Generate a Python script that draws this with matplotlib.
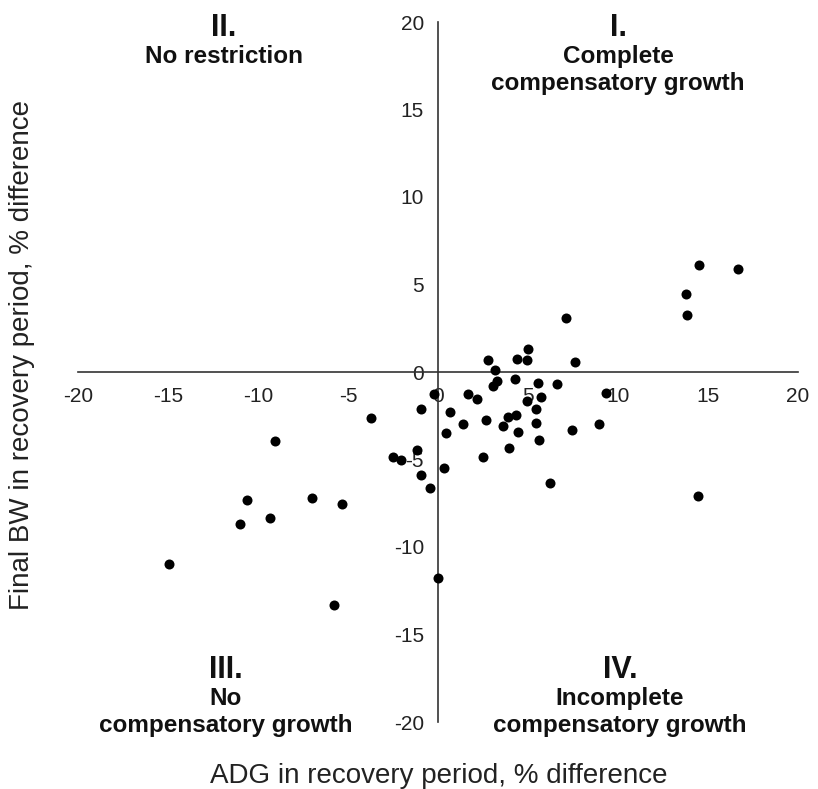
import matplotlib
matplotlib.use("Agg")
import matplotlib.pyplot as plt

# Data (ADG % difference, Final BW % difference)
adg = [7.10, 5.01, 2.75, 4.40, 4.97, 7.62, 3.19, 4.25, 3.29, 3.07,
       5.58, 6.60, -0.21, 1.68, 2.16, 5.71, 4.95, 9.34, -0.94, 5.45,
       0.64, -3.71, 1.40, 2.69, 3.90, 4.34, 3.62, 5.47, 8.97, 7.47,
       4.44, 0.42, 5.62, 3.97, -1.18, 2.51, -2.51, -2.08, 0.32, -0.94,
       6.21, -0.42, -9.08, -10.60, -6.99, -5.32, -11.01, -9.34, -14.95, 0.01,
       -5.79, 14.49, 16.68, 13.75, 13.82, 14.45]
bw = [3.10, 1.34, 0.70, 0.73, 0.68, 0.58, 0.09, -0.41, -0.50, -0.81,
      -0.62, -0.70, -1.23, -1.23, -1.57, -1.42, -1.67, -1.19, -2.14, -2.14,
      -2.30, -2.60, -2.96, -2.75, -2.56, -2.43, -3.10, -2.93, -2.96, -3.34,
      -3.42, -3.51, -3.91, -4.37, -4.47, -4.83, -4.85, -5.02, -5.51, -5.86,
      -6.37, -6.62, -3.97, -7.34, -7.19, -7.55, -8.71, -8.37, -10.96, -11.76,
      -13.32, 6.14, 5.90, 4.43, 3.27, -7.10]

ticks = [-20, -15, -10, -5, 0, 5, 10, 15, 20]
tick_labels = [str(t) for t in ticks]

xlabel = "ADG in recovery period, % difference"
ylabel = "Final BW in recovery period, % difference"

quadrants = [
    ("I.", "Complete\ncompensatory growth", 618, 28),
    ("II.", "No restriction", 224, 28),
    ("III.", "No\ncompensatory growth", 226, 670),
    ("IV.", "Incomplete\ncompensatory growth", 620, 670),
]

plt.rcParams['font.family'] = ['Liberation Sans', 'DejaVu Sans']

W, H = 818, 789
fig = plt.figure(figsize=(W / 100, H / 100), dpi=100)
ax = fig.add_axes([78 / W, (H - 722) / H, 720 / W, 700 / H])
ax.set_xlim(-20, 20)
ax.set_ylim(-20, 20)

ax.scatter(adg, bw, s=52, color='black', zorder=3, linewidths=0)

for side in ['top', 'right']:
    ax.spines[side].set_visible(False)
for side in ['left', 'bottom']:
    ax.spines[side].set_position('zero')
    ax.spines[side].set_color('#333333')
    ax.spines[side].set_linewidth(1.2)

ax.set_xticks(ticks)
ax.set_xticklabels(tick_labels)
ax.set_yticks(ticks)
ax.set_yticklabels(tick_labels)
ax.tick_params(axis='x', length=0, pad=11, labelsize=15, labelcolor='#222222')
ax.tick_params(axis='y', length=0, pad=10, labelsize=15, labelcolor='#222222')

fig.text(439 / W, 1 - 776 / H, xlabel, ha='center', va='center', fontsize=20, color='#222222')
fig.text(22 / W, 1 - 355 / H, ylabel, ha='center', va='center', rotation=90, fontsize=20, color='#222222')

for num, body, cx, cy in quadrants:
    fig.text(cx / W, 1 - cy / H, num, ha='center', va='center', fontsize=22, fontweight='bold', color='#111111')
    fig.text(cx / W, 1 - (cy + 17) / H, body, ha='center', va='top', fontsize=17.5, fontweight='bold',
             color='#111111', linespacing=1.2)

fig.savefig("out.png", dpi=100)
